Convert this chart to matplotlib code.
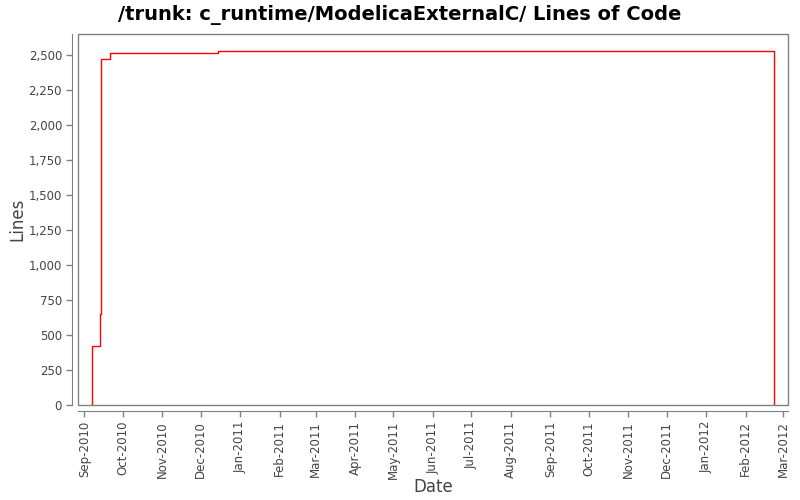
import numpy as np
import matplotlib.pyplot as plt
import matplotlib.dates as mdates
from matplotlib.patches import Rectangle
from matplotlib.ticker import FuncFormatter
from datetime import datetime

# lines-of-code history (step changes)
dates = [datetime(2010, 9, 7), datetime(2010, 9, 7), datetime(2010, 9, 13),
         datetime(2010, 9, 14), datetime(2010, 9, 21), datetime(2010, 12, 15),
         datetime(2012, 2, 23), datetime(2012, 2, 23)]
lines = [0, 420, 650, 2475, 2512, 2526, 2526, 0]

tick_dates = [datetime(y, m, 1) for y, m in
              [(2010, 9), (2010, 10), (2010, 11), (2010, 12), (2011, 1), (2011, 2),
               (2011, 3), (2011, 4), (2011, 5), (2011, 6), (2011, 7), (2011, 8),
               (2011, 9), (2011, 10), (2011, 11), (2011, 12), (2012, 1), (2012, 2),
               (2012, 3)]]
y_ticks = np.arange(0, 2501, 250)

grey = '#808080'
txt = '#444444'

fig = plt.figure(figsize=(8, 5), dpi=100)
ax = fig.add_axes([0.0975, 0.19, 0.8875, 0.742])

ax.step(dates, lines, where='post', color='red', lw=1)

ax.set_xlim(datetime(2010, 8, 27), datetime(2012, 3, 5))
ax.set_ylim(0, 2650)

ax.set_xticks(tick_dates)
ax.xaxis.set_major_formatter(mdates.DateFormatter('%b-%Y'))
ax.set_yticks(y_ticks)
ax.yaxis.set_major_formatter(FuncFormatter(lambda v, p: f'{int(v):,}'))
ax.tick_params(axis='x', labelrotation=90)

ax.tick_params(colors=grey, labelcolor=txt, labelsize=8.5, length=4, width=1)

for s in ['left', 'bottom']:
    ax.spines[s].set_position(('outward', 4))
    ax.spines[s].set_color(grey)
for s in ['top', 'right']:
    ax.spines[s].set_visible(False)
ax.add_patch(Rectangle((0, 0), 1, 1, transform=ax.transAxes, fill=False,
                       edgecolor=grey, lw=1, clip_on=False))

ax.set_xlabel('Date', fontsize=12, color=txt)
ax.set_ylabel('Lines', fontsize=12, color=txt)
ax.xaxis.set_label_coords(0.5, -0.197)
ax.yaxis.set_label_coords(-0.073, 0.5)
fig.suptitle('/trunk: c_runtime/ModelicaExternalC/ Lines of Code',
             fontsize=14, fontweight='bold', x=0.5, y=0.99)

fig.savefig('out.png', dpi=100)
